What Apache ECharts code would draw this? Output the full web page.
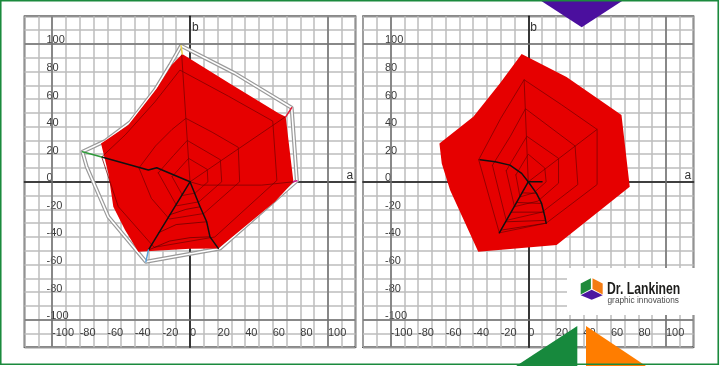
<!DOCTYPE html>
<html>
<head>
<meta charset="utf-8">
<script src="https://cdn.jsdelivr.net/npm/echarts@6/dist/echarts.min.js"></script>
<style>
html,body{margin:0;padding:0;background:#fff;}
#chart{width:720px;height:366px;}
</style>
</head>
<body>
<div id="chart"></div>
<script>
// ---------- data ----------
const axisMin = -120, axisMax = 120, gridStep = 10;
const tickValues = [-100, -80, -60, -40, -20, 0, 20, 40, 60, 80, 100];
const frameLineValues = [-100, 100];
const axisNames = ['a', 'b'];

// left panel
const leftOutline = [[-78,21.8],[-61.6,29.5],[-43.5,43.1],[-25.4,66.5],[-14.5,84.6],[-6.5,98.6],[32.6,78.6],[73.7,53.7],[77.5,0.7],[21.8,-48.3],[-32,-58],[-47.1,-39.9],[-59.2,-25.4],[-74.9,10.9],[-78,21.8]];
const leftFill = [[-5.6,92.6],[30,70.6],[64.5,49.6],[69.4,47.1],[72,25],[75,0],[61.6,-14.5],[20.5,-48.3],[0,-48.5],[-37.5,-50.8],[-47.1,-35],[-55.6,-18],[-59.2,6.1],[-64.5,27.8],[-44.7,41.1],[-24.1,67.7],[-13.3,84.6]];
const leftRings = [
  [[-64,18],[-47,34],[-25.4,58],[-7.3,81],[28,62],[60,44],[63,1],[18,-40],[-26,-47.5],[-52,-18],[-64,18]],
  [[-37,10],[-25,26],[-13,38],[-3,46],[16,36],[35,25],[36,0],[10,-23],[-15,-27],[-28,-12],[-37,10]],
  [[-23,6.5],[-12,19],[-2,30],[22,16],[23,0],[6.5,-14.5],[-9.6,-17.4],[-23,6.5]],
  [[-13,3.7],[-1,17],[12.5,9],[13,0],[3.7,-8.2],[-5.4,-9.9],[-13,3.7]]
];
const leftSpokes = [
  [[0,0],[-6,92]],
  [[0,0],[69,47]],
  [[0,0],[8.5,-2.4],[52,-2.4],[75,0]]
];
const leftBlack = [
  [[-64,18],[-30.2,8.5],[-24.1,10.2],[0,0]],
  [[0,0],[-30.2,-49.5]],
  [[0,0],[7.3,-18.1],[12.1,-29],[14.5,-39.9],[20.5,-48.3]]
];
const leftWedge = [
  [[-30.2,-49.5],[-15,-43],[0,-40.5],[14.5,-39.9]],
  [[-23,-37],[-10,-31],[12,-29]],
  [[-15,-24],[-3,-20],[7.3,-18.1]]
];
const leftEndMarks = [
  [[-78,21.8],[-64,18]],
  [[-6.5,98.6],[-5.6,92.6]],
  [[73.7,53.7],[69.4,47.1]],
  [[77.5,0.7],[75,0]],
  [[-32,-58],[-30.2,-49.5]]
];

// right panel
const rightFill = [[-4.8,92.6],[27.8,76],[67.7,48.4],[73.7,-3.6],[20.6,-45.9],[-36.3,-50.8],[-56.8,-6],[-62.8,13.3],[-64.5,27.8],[-39.9,47.1],[-20.5,71.4]];
const rightRings = [
  [[-36,16],[-20,46],[-3,74],[24,56],[50,38],[50,-2],[13,-30],[-21,-37],[-36,16]],
  [[-26,12],[-13,33],[-2,53],[34,26],[36,-2],[10,-22],[-16,-28],[-26,12]],
  [[-16,8],[-1,33],[22,17],[22,-1],[7,-14],[-10,-18],[-16,8]],
  [[-9,5],[0,20],[12,10],[13,0],[4,-8],[-6,-11],[-9,5]]
];
const rightSpokes = [
  [[0,0],[-3,74]],
  [[0,0],[50,38]]
];
const rightBlack = [
  [[-35,16],[-24,14.5],[-13.3,12.1],[-4.8,6.1],[0,0]],
  [[0,0],[-21,-37]],
  [[0,0],[6,-8.4],[9.7,-15.7],[12.1,-25.4],[13,-30]],
  [[0,0],[10,0]]
];
const rightWedge = [
  [[-4.4,-8],[6,-8.4]],
  [[-8.3,-15],[9.5,-15.7]],
  [[-12.2,-22],[11.5,-22]],
  [[-16.1,-29],[12.5,-28]],
  [[-19.5,-35],[13,-30]]
];

// ---------- styles ----------
const labelFont = 'Liberation Sans, Arial, Helvetica, sans-serif';
const endMarkColors = ['#2e9a3a', '#e8d24a', '#e0203a', '#d01a8a', '#5aa0d8'];
const fillColor = '#e60000';

const grids = [
  {left: 24.5, top: 16.3, width: 331, height: 331},
  {left: 363, top: 16.3, width: 330.5, height: 331}
];

function mainX(p) {
  return {
    type: 'value', gridIndex: p, min: axisMin, max: axisMax, interval: gridStep, position: 'bottom',
    axisLine: {show: false, onZero: false}, axisTick: {show: false},
    splitLine: {show: true, lineStyle: {color: '#bdbdbd', width: 1.5}},
    axisLabel: {show: true, inside: true, margin: 14, align: 'left', verticalAlign: 'middle',
      color: '#3a3a3a', fontSize: 11, fontFamily: labelFont,
      formatter: v => tickValues.includes(v) ? String(v) : ''}
  };
}
function zeroX(p) {
  return {
    type: 'value', gridIndex: p, min: axisMin, max: axisMax, interval: gridStep, position: 'bottom',
    axisLine: {show: true, onZero: true, onZeroAxisIndex: p * 2, lineStyle: {color: '#111', width: 1.6}},
    axisTick: {show: false}, axisLabel: {show: false}, splitLine: {show: false},
    name: axisNames[0], nameLocation: 'end', nameGap: -9,
    nameTextStyle: {color: '#333', fontSize: 12, fontFamily: labelFont, align: 'left', verticalAlign: 'bottom'}
  };
}
function mainY(p) {
  return {
    type: 'value', gridIndex: p, min: axisMin, max: axisMax, interval: gridStep, position: 'left',
    axisLine: {show: false, onZero: false}, axisTick: {show: false},
    splitLine: {show: true, lineStyle: {color: '#bdbdbd', width: 1.5}},
    axisLabel: {show: true, inside: true, margin: 22, align: 'left', verticalAlign: 'bottom',
      lineHeight: 7,
      color: '#3a3a3a', fontSize: 11, fontFamily: labelFont,
      formatter: v => tickValues.includes(v) ? String(v) : ''}
  };
}
function zeroY(p) {
  return {
    type: 'value', gridIndex: p, min: axisMin, max: axisMax, interval: gridStep, position: 'left',
    axisLine: {show: true, onZero: true, onZeroAxisIndex: p * 2, lineStyle: {color: '#111', width: 1.6}},
    axisTick: {show: false}, axisLabel: {show: false}, splitLine: {show: false},
    name: axisNames[1], nameLocation: 'end', nameGap: -17,
    nameTextStyle: {color: '#333', fontSize: 12, fontFamily: labelFont, align: 'left', verticalAlign: 'bottom', padding: [0, 0, 0, 2]}
  };
}

function lineSeries(p, pts, color, width, z, opacity) {
  return {
    type: 'line', xAxisIndex: p * 2, yAxisIndex: p * 2, data: pts, z: z,
    symbol: 'none', showSymbol: false, silent: true, animation: false,
    lineStyle: {color: color, width: width, opacity: opacity == null ? 1 : opacity, join: 'round', cap: 'round'}
  };
}
function polygonSeries(p, pts, color, z) {
  return {
    type: 'custom', xAxisIndex: p * 2, yAxisIndex: p * 2, z: z, silent: true, animation: false,
    data: pts, encode: {x: 0, y: 1},
    renderItem: function (params, api) {
      if (params.dataIndex !== 0) return null;
      return {
        type: 'polygon',
        shape: {points: pts.map(pt => api.coord(pt))},
        style: {fill: color, blend: 'multiply'}
      };
    }
  };
}
function frameLines(p) {
  const data = [];
  frameLineValues.forEach(v => { data.push({xAxis: v}); data.push({yAxis: v}); });
  return {
    type: 'line', xAxisIndex: p * 2, yAxisIndex: p * 2, data: [], z: 1, silent: true, animation: false,
    markLine: {silent: true, symbol: ['none', 'none'], animation: false, label: {show: false},
      lineStyle: {color: '#707070', width: 1.5, type: 'solid'}, data: data}
  };
}

const series = [];
series.push(frameLines(0));
series.push(frameLines(1));
// left
series.push(lineSeries(0, leftOutline, '#9a9a9a', 4, 2));
series.push(lineSeries(0, leftOutline, '#ffffff', 1.6, 2));
series.push(polygonSeries(0, leftFill, fillColor, 3));
leftRings.forEach(r => series.push(lineSeries(0, r, '#7a0000', 1, 4, 0.75)));
leftSpokes.forEach(r => series.push(lineSeries(0, r, '#7a0000', 1, 4, 0.75)));
leftWedge.forEach(r => series.push(lineSeries(0, r, '#4a0000', 1, 5, 0.6)));
leftBlack.forEach(r => series.push(lineSeries(0, r, '#111', 1.5, 5)));
leftEndMarks.forEach((r, i) => series.push(lineSeries(0, r, endMarkColors[i], 1.5, 5)));
// right
series.push(polygonSeries(1, rightFill, fillColor, 3));
rightRings.forEach(r => series.push(lineSeries(1, r, '#7a0000', 1, 4, 0.75)));
rightSpokes.forEach(r => series.push(lineSeries(1, r, '#7a0000', 1, 4, 0.75)));
rightWedge.forEach(r => series.push(lineSeries(1, r, '#4a0000', 1, 5, 0.6)));
rightBlack.forEach(r => series.push(lineSeries(1, r, '#111', 1.5, 5)));

const cubeT = [591.7, 278.3], cubeUR = [602.7, 283.6], cubeLR = [602.7, 294.4], cubeB = [591.7, 299.7],
      cubeLL = [580.7, 294.4], cubeUL = [580.7, 283.6], cubeC = [591.7, 289];

const chart = echarts.init(document.getElementById('chart'), null, {renderer: 'canvas'});
chart.setOption({
  backgroundColor: '#ffffff',
  animation: false,
  grid: grids.map(g => Object.assign({show: true, borderColor: '#151515', borderWidth: 1.6, backgroundColor: 'transparent', containLabel: false}, g)),
  xAxis: [mainX(0), zeroX(0), mainX(1), zeroX(1)],
  yAxis: [mainY(0), zeroY(0), mainY(1), zeroY(1)],
  series: series,
  graphic: [
    {type: 'rect', z: 50, shape: {x: 567, y: 268, width: 128, height: 47}, style: {fill: '#ffffff'}},
    {type: 'polygon', z: 60, shape: {points: [cubeUL, [cubeT[0] - 0.8, cubeT[1]], [cubeC[0] - 0.8, cubeC[1]], cubeLL]}, style: {fill: '#1f8a3a'}},
    {type: 'polygon', z: 60, shape: {points: [[cubeT[0] + 0.8, cubeT[1]], cubeUR, cubeLR, [cubeC[0] + 0.8, cubeC[1]]]}, style: {fill: '#f47c13'}},
    {type: 'polygon', z: 60, shape: {points: [[cubeLL[0], cubeLL[1] + 0.8], [cubeC[0], cubeC[1] + 0.8], [cubeLR[0], cubeLR[1] + 0.8], cubeB]}, style: {fill: '#4c16a0'}},
    {type: 'text', z: 60, x: 607, y: 289.5, scaleX: 0.74,
      style: {text: 'Dr. Lankinen', x: 0, y: 0, fill: '#1d1d1b', font: 'bold 16.5px ' + labelFont, textAlign: 'left', textVerticalAlign: 'middle'}},
    {type: 'text', z: 60, x: 607.5, y: 300.3,
      style: {text: 'graphic innovations', x: 0, y: 0, fill: '#4a4a4a', font: '8.3px ' + labelFont, textAlign: 'left', textVerticalAlign: 'middle'}},
    {type: 'polygon', z: 60, shape: {points: [[536.7, -2], [626.7, -2], [581.7, 27.3]]}, style: {fill: '#4b0f9e'}},
    {type: 'polygon', z: 60, shape: {points: [[577.3, 326], [577.3, 370], [510, 370]]}, style: {fill: '#17893d'}},
    {type: 'polygon', z: 60, shape: {points: [[586, 326], [586, 370], [652, 370]]}, style: {fill: '#ff7d00'}},
    {type: 'rect', z: 70, shape: {x: 0.75, y: 0.75, width: 717.5, height: 363.5}, style: {fill: 'none', stroke: '#1b8a3d', lineWidth: 1.6}}
  ]
});
</script>
</body>
</html>
